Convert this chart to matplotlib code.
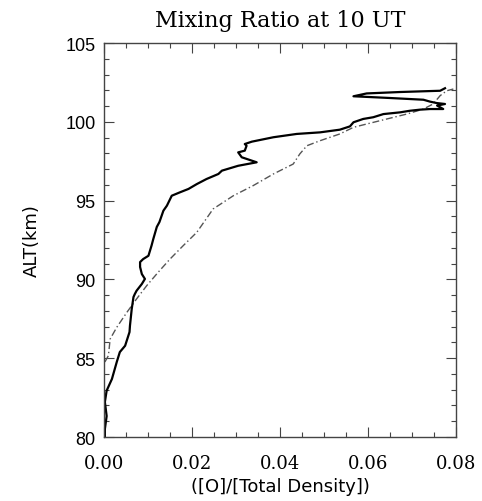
import matplotlib
matplotlib.use("Agg")
import matplotlib.pyplot as plt
from matplotlib.ticker import MultipleLocator, FormatStrFormatter

# solid profile (mixing ratio, altitude km)
solid_x = [0.0002, 0.0002, 0.0006, 0.0002, 0.0006, 0.0018, 0.0029, 0.0036, 0.0048, 0.0058,
           0.0059, 0.0063, 0.0067, 0.0070, 0.0074, 0.0086, 0.0093, 0.0086, 0.0082, 0.0082,
           0.0089, 0.0101, 0.0108, 0.0112, 0.0120, 0.0126, 0.0131, 0.0135, 0.0143, 0.0154,
           0.0173, 0.0192, 0.0211, 0.0233, 0.0260, 0.0268, 0.0305, 0.0347, 0.0313, 0.0305,
           0.0320, 0.0324, 0.0320, 0.0336, 0.0385, 0.0438, 0.0491, 0.0536, 0.0559, 0.0567,
           0.0589, 0.0612, 0.0635, 0.0673, 0.0695, 0.0718, 0.0741, 0.0771, 0.0757, 0.0775,
           0.0756, 0.0741, 0.0726, 0.0650, 0.0567, 0.0597, 0.0673, 0.0764, 0.0775]
solid_alt = [80.0, 80.51, 81.33, 82.22, 82.94, 83.68, 84.76, 85.39, 85.79, 86.66,
             87.06, 88.12, 88.88, 89.07, 89.28, 89.71, 90.03, 90.34, 90.79, 91.10,
             91.29, 91.50, 92.14, 92.56, 93.33, 93.64, 94.04, 94.36, 94.68, 95.31,
             95.53, 95.74, 96.05, 96.37, 96.69, 96.90, 97.21, 97.43, 97.75, 98.06,
             98.17, 98.48, 98.59, 98.74, 99.02, 99.23, 99.33, 99.50, 99.71, 99.97,
             100.18, 100.29, 100.49, 100.60, 100.70, 100.77, 100.81, 100.81, 101.03, 101.13,
             101.19, 101.28, 101.40, 101.51, 101.62, 101.80, 101.89, 101.97, 102.13]

# dash-dot profile
dd_x = [0.0002, 0.0010, 0.0014, 0.0029, 0.0052, 0.0074, 0.0097, 0.0123, 0.0150, 0.0180,
        0.0211, 0.0248, 0.0294, 0.0339, 0.0385, 0.0430, 0.0445, 0.0461, 0.0491, 0.0536,
        0.0567, 0.0597, 0.0643, 0.0688, 0.0726, 0.0748, 0.0764, 0.0779, 0.0794]
dd_alt = [84.76, 85.16, 86.22, 86.96, 87.91, 88.76, 89.60, 90.45, 91.29, 92.14,
          92.99, 94.47, 95.31, 95.95, 96.69, 97.32, 97.96, 98.48, 98.80, 99.23,
          99.65, 99.86, 100.18, 100.49, 100.81, 101.13, 101.66, 101.97, 102.08]

fig = plt.figure(figsize=(4.82, 5.02), dpi=100)
ax = fig.add_axes([104/482, 1-438/502, 352/482, 394/502])

ax.plot(dd_x, dd_alt, color="#555555", linewidth=1.0, linestyle=(0, (5, 2, 1, 2)))
ax.plot(solid_x, solid_alt, color="black", linewidth=1.6)

ax.set_xlim(0, 0.08)
ax.set_ylim(80, 105)
ax.xaxis.set_major_locator(MultipleLocator(0.02))
ax.xaxis.set_minor_locator(MultipleLocator(0.005))
ax.yaxis.set_major_locator(MultipleLocator(5))
ax.yaxis.set_minor_locator(MultipleLocator(1))
ax.xaxis.set_major_formatter(FormatStrFormatter("%.2f"))

ax.tick_params(which="both", direction="in", top=True, right=True, color="#444444")
ax.tick_params(axis="x", which="major", length=7, width=0.8, pad=12)
ax.tick_params(axis="y", which="major", length=7, width=0.8, pad=6)
ax.tick_params(which="minor", length=3.5, width=0.8)
for s in ax.spines.values():
    s.set_color("#444444")
    s.set_linewidth(1.0)

for lab in ax.get_xticklabels():
    lab.set_family("DejaVu Serif")
    lab.set_fontsize(13)
for lab in ax.get_yticklabels():
    lab.set_family("Liberation Sans")
    lab.set_fontsize(13)

ax.set_title("Mixing Ratio at 10 UT", family="DejaVu Serif", fontsize=16, pad=12)
ax.set_ylabel("ALT(km)", family="DejaVu Sans", fontsize=13, labelpad=18)
ax.set_xlabel("([O]/[Total Density])", family="DejaVu Sans", fontsize=13, labelpad=4)

fig.savefig("out.png", dpi=100)
